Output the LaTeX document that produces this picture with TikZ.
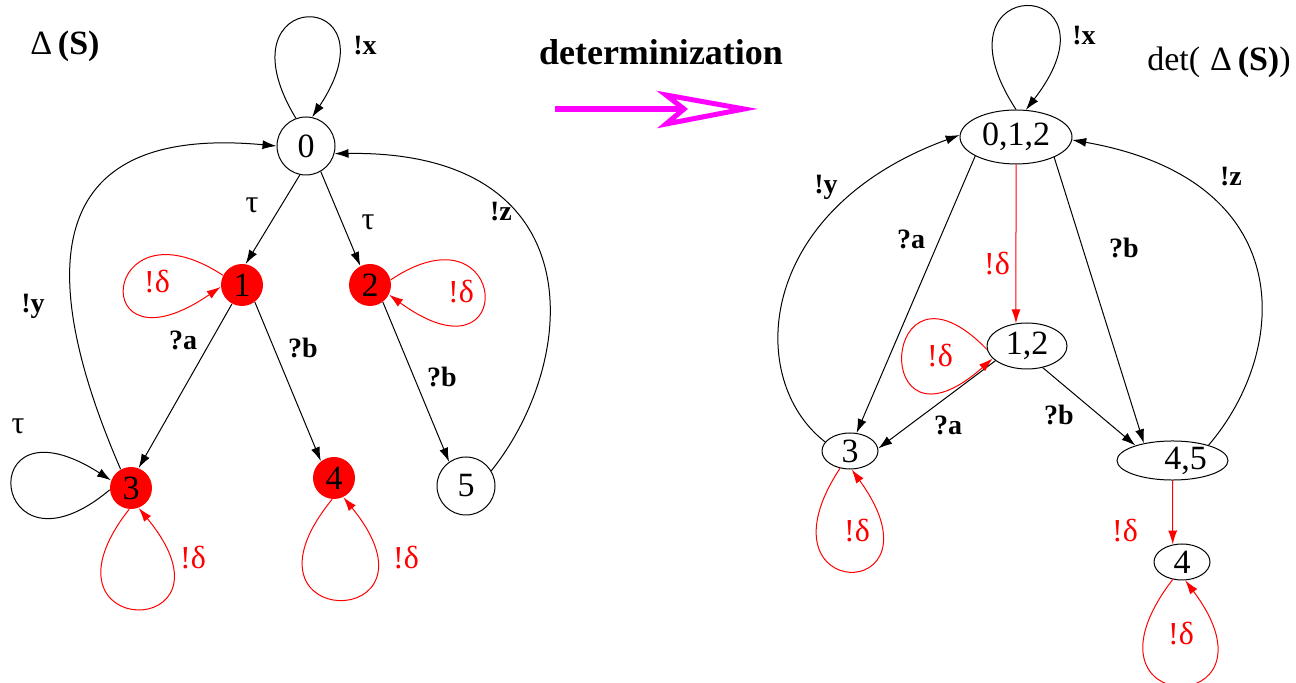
\documentclass[tikz,border=0pt]{standalone}
\usepackage{fontspec}
\setmainfont{Liberation Serif}
\usetikzlibrary{arrows.meta,shapes.geometric}
\definecolor{pmag}{RGB}{255,0,255}
\definecolor{pred}{RGB}{255,0,0}
\begin{document}
\begin{tikzpicture}[x=0.5pt,y=-0.5pt,
  every node/.style={inner sep=0pt},
  edge/.style={line width=0.5pt,-{Latex[length=7pt,width=4.5pt]}},
  redge/.style={edge,pred},
  wst/.style={circle,draw,line width=0.5pt,minimum size=29pt,font=\fontsize{17}{17}\selectfont},
  rst/.style={circle,fill=pred,minimum size=21pt,font=\fontsize{17}{17}\selectfont},
  est/.style={ellipse,draw,line width=0.5pt,font=\fontsize{17}{17}\selectfont},
  lbl/.style={font=\bfseries\fontsize{14}{14}\selectfont},
  dlbl/.style={text=pred,font=\fontsize{16}{16}\selectfont},
  tlbl/.style={font=\fontsize{16}{16}\selectfont},
]
\useasboundingbox (0,0) rectangle (1296,683);

% titles
\node[font=\fontsize{17}{17}\selectfont] (tl) at (65,46) {Δ\,\textbf{(S)}};
\node[font=\bfseries\fontsize{18}{18}\selectfont] (td) at (661,52) {determinization};
\node[font=\fontsize{17}{17}\selectfont] (tr) at (1219,62) {det(\hspace{5pt}Δ\,\textbf{(S)})};

% magenta arrow
\coordinate (ma) at (555,109);
\coordinate (mb) at (684,109);
\coordinate (mtip) at (744,109);
\coordinate (mt) at (666,95);
\coordinate (mbm) at (666,124);
\draw[pmag,line width=3pt] (ma) -- (mb);
\draw[pmag,line width=2.5pt] (mt) -- (mtip) -- (mbm) -- (mb) -- cycle;

% left automaton
\node[wst] (n0) at (306,146) {0};
\node[rst] (n1) at (242,285) {1};
\node[rst] (n2) at (370,285) {2};
\node[rst] (n3) at (131,488) {3};
\node[rst] (n4) at (334,478) {4};
\node[wst] (n5) at (466,486) {5};

\draw[edge] (n0.110) .. controls (215,-15) and (400,-15) .. (n0.78);
\draw[edge] (n3.119) .. controls (30,260) and (50,125) .. (n0.180);
\draw[edge] (n5.31) .. controls (580,360) and (595,150) .. (n0.-15);
\draw[edge] (n0.-102) -- (n1.80);
\draw[edge] (n0.-60) -- (n2.117);
\draw[edge] (n1.-118) -- (n3.69);
\draw[edge] (n1.-53) -- (n4.128);
\draw[edge] (n2.-53) -- (n5.125);
\draw[redge] (n1.153) .. controls (100,195) and (85,380) .. (n1.185);
\draw[redge] (n2.14) .. controls (510,200) and (520,390) .. (n2.-27);
\draw[edge] (n3.185) .. controls (-10,590) and (-30,390) .. (n3.159);
\draw[redge] (n3.-95) .. controls (25,642) and (249,642) .. (n3.-69);
\draw[redge] (n4.-95) .. controls (223,633) and (454,633) .. (n4.-64);

\node[lbl] (lx) at (365,46) {!x};
\node[tlbl] (lt1) at (252,205) {τ};
\node[tlbl] (lt2) at (368,222) {τ};
\node[lbl] (lz) at (501,212) {!z};
\node[dlbl] (ld1) at (157,282) {!δ};
\node[dlbl] (ld2) at (461,292) {!δ};
\node[lbl] (ly) at (33,306) {!y};
\node[lbl] (la) at (183,340) {?a};
\node[lbl] (lb1) at (303,348) {?b};
\node[lbl] (lb2) at (442,377) {?b};
\node[tlbl] (lt3) at (18,426) {τ};
\node[dlbl] (ld3) at (193,558) {!δ};
\node[dlbl] (ld4) at (406,558) {!δ};

% right automaton
\node[est,minimum width=56pt,minimum height=27pt] (r012) at (1016,137) {0,1,2};
\node[est,minimum width=40pt,minimum height=23pt] (r12) at (1027,346) {1,2};
\node[est,minimum width=28pt,minimum height=18pt] (r3) at (850,451) {3};
\node[est,minimum width=55.5pt,minimum height=18.5pt] (r45) at (1172.5,460.5) {\hspace*{13pt}4,5};
\node[est,minimum width=28pt,minimum height=18pt] (r4) at (1182,562) {4};

\draw[edge] (r012.90) .. controls (925,-30) and (1130,-25) .. (r012.70);
\draw[edge] (r3.160) .. controls (745,380) and (755,210) .. (r012.178);
\draw[edge] (r45.23) .. controls (1290,350) and (1300,180) .. (r012.-3);
\draw[edge] (r012.-155) -- (r3.70);
\draw[redge] (r012.south) -- (r12.116.6);
\draw[edge] (r012.-28) -- (r45.149);
\draw[edge] (r12.-155) -- (r3.5);
\draw[edge] (r12.-54) -- (r45.158);
\draw[redge] (r12.185) .. controls (880,239) and (868,469) .. (r12.200);
\draw[redge] (r3.-120) .. controls (750,605) and (950,605) .. (r3.-85);
\draw[redge] (r45.south) -- (r4.118);
\draw[redge] (r4.-118) .. controls (1065,720) and (1290,720) .. (r4.-80);

\node[lbl] (rlx) at (1084,36) {!x};
\node[lbl] (rly) at (826,187) {!y};
\node[lbl] (rla1) at (911,239) {?a};
\node[dlbl] (rld1) at (997,264) {!δ};
\node[lbl] (rlb1) at (1124,248) {?b};
\node[lbl] (rlz) at (1231,177) {!z};
\node[dlbl] (rld2) at (940,356) {!δ};
\node[lbl] (rla2) at (948,425) {?a};
\node[lbl] (rlb2) at (1059,415) {?b};
\node[dlbl] (rld3) at (857,531) {!δ};
\node[dlbl] (rld4) at (1125,531) {!δ};
\node[dlbl] (rld5) at (1181,634) {!δ};
\end{tikzpicture}
\end{document}
